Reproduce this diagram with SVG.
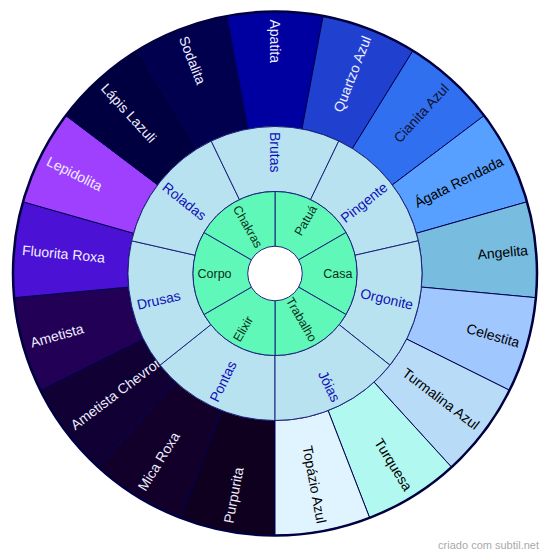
<svg xmlns="http://www.w3.org/2000/svg" width="550" height="559" viewBox="0 0 550 559">
<style>
text{font-family:"Liberation Sans",Arial,sans-serif}
.o{stroke:#000050;stroke-width:1}
.m{fill:#b8e2f0;stroke:#1a237e;stroke-width:1}
.i{fill:#60f8b8;stroke:#1a237e;stroke-width:1}
.ot{font-size:14px}
.w{fill:#eeeeff}
.k{fill:#000000}
.mt{font-size:14px;fill:#1010b8}
.it{font-size:12.5px;fill:#0b2e22}
.s{text-anchor:start}
.e{text-anchor:end}
</style>
<rect width="550" height="559" fill="#ffffff"/>
<g id="outer">
<g id="purpurita"><path class="o" fill="#0e001e" d="M275,420.5 L275,535.5 A262,262 0 0 1 180.355,517.807 L221.898,410.573 A147,147 0 0 0 275,420.5 Z"/><text class="ot w s" dy="0.35em" transform="translate(275 273.5) rotate(-79.412)" x="-254">Purpurita</text></g>
<g id="mica-roxa"><path class="o" fill="#12002a" d="M221.898,410.573 L180.355,517.807 A262,262 0 0 1 98.491,467.121 L175.966,382.134 A147,147 0 0 0 221.898,410.573 Z"/><text class="ot w s" dy="0.35em" transform="translate(275 273.5) rotate(-58.235)" x="-254">Mica Roxa</text></g>
<g id="ametista-chevron"><path class="o" fill="#110033" d="M175.966,382.134 L98.491,467.121 A262,262 0 0 1 40.468,390.281 L143.411,339.022 A147,147 0 0 0 175.966,382.134 Z"/><text class="ot w s" dy="0.35em" transform="translate(275 273.5) rotate(-37.059)" x="-254">Ametista Chevron</text></g>
<g id="ametista"><path class="o" fill="#220055" d="M143.411,339.022 L40.468,390.281 A262,262 0 0 1 14.119,297.675 L128.628,287.064 A147,147 0 0 0 143.411,339.022 Z"/><text class="ot w s" dy="0.35em" transform="translate(275 273.5) rotate(-15.882)" x="-254">Ametista</text></g>
<g id="fluorita-roxa"><path class="o" fill="#4b12d6" d="M128.628,287.064 L14.119,297.675 A262,262 0 0 1 23,201.801 L133.611,233.272 A147,147 0 0 0 128.628,287.064 Z"/><text class="ot w s" dy="0.35em" transform="translate(275 273.5) rotate(5.294)" x="-254">Fluorita Roxa</text></g>
<g id="lepidolita"><path class="o" fill="#a040ff" d="M133.611,233.272 L23,201.801 A262,262 0 0 1 65.919,115.611 L157.691,184.913 A147,147 0 0 0 133.611,233.272 Z"/><text class="ot w s" dy="0.35em" transform="translate(275 273.5) rotate(26.471)" x="-254">Lepidolita</text></g>
<g id="lapis-lazuli"><path class="o" fill="#000040" d="M157.691,184.913 L65.919,115.611 A262,262 0 0 1 137.075,50.742 L197.615,148.518 A147,147 0 0 0 157.691,184.913 Z"/><text class="ot w s" dy="0.35em" transform="translate(275 273.5) rotate(47.647)" x="-254">Lápis Lazuli</text></g>
<g id="sodalita"><path class="o" fill="#00004f" d="M197.615,148.518 L137.075,50.742 A262,262 0 0 1 226.857,15.962 L247.989,129.003 A147,147 0 0 0 197.615,148.518 Z"/><text class="ot w s" dy="0.35em" transform="translate(275 273.5) rotate(68.824)" x="-254">Sodalita</text></g>
<g id="apatita"><path class="o" fill="#0000a0" d="M247.989,129.003 L226.857,15.962 A262,262 0 0 1 323.143,15.962 L302.011,129.003 A147,147 0 0 0 247.989,129.003 Z"/><text class="ot w s" dy="0.35em" transform="translate(275 273.5) rotate(90)" x="-254">Apatita</text></g>
<g id="quartzo-azul"><path class="o" fill="#2040d0" d="M302.011,129.003 L323.143,15.962 A262,262 0 0 1 412.925,50.742 L352.385,148.518 A147,147 0 0 0 302.011,129.003 Z"/><text class="ot w e" dy="0.35em" transform="translate(275 273.5) rotate(-68.824)" x="254">Quartzo Azul</text></g>
<g id="cianita-azul"><path class="o" fill="#3070f0" d="M352.385,148.518 L412.925,50.742 A262,262 0 0 1 484.081,115.611 L392.309,184.913 A147,147 0 0 0 352.385,148.518 Z"/><text class="ot e" fill="#101030" dy="0.35em" transform="translate(275 273.5) rotate(-47.647)" x="254">Cianita Azul</text></g>
<g id="agata-rendada"><path class="o" fill="#58a0ff" d="M392.309,184.913 L484.081,115.611 A262,262 0 0 1 527,201.801 L416.389,233.272 A147,147 0 0 0 392.309,184.913 Z"/><text class="ot k e" dy="0.35em" transform="translate(275 273.5) rotate(-26.471)" x="254">Ágata Rendada</text></g>
<g id="angelita"><path class="o" fill="#78bce0" d="M416.389,233.272 L527,201.801 A262,262 0 0 1 535.881,297.675 L421.372,287.064 A147,147 0 0 0 416.389,233.272 Z"/><text class="ot k e" dy="0.35em" transform="translate(275 273.5) rotate(-5.294)" x="254">Angelita</text></g>
<g id="celestita"><path class="o" fill="#a0c8ff" d="M421.372,287.064 L535.881,297.675 A262,262 0 0 1 509.532,390.281 L406.589,339.022 A147,147 0 0 0 421.372,287.064 Z"/><text class="ot k e" dy="0.35em" transform="translate(275 273.5) rotate(15.882)" x="254">Celestita</text></g>
<g id="turmalina-azul"><path class="o" fill="#b8dcf8" d="M406.589,339.022 L509.532,390.281 A262,262 0 0 1 451.509,467.121 L374.034,382.134 A147,147 0 0 0 406.589,339.022 Z"/><text class="ot k e" dy="0.35em" transform="translate(275 273.5) rotate(37.059)" x="254">Turmalina Azul</text></g>
<g id="turquesa"><path class="o" fill="#b0f8f0" d="M374.034,382.134 L451.509,467.121 A262,262 0 0 1 369.645,517.807 L328.102,410.573 A147,147 0 0 0 374.034,382.134 Z"/><text class="ot k e" dy="0.35em" transform="translate(275 273.5) rotate(58.235)" x="254">Turquesa</text></g>
<g id="topazio-azul"><path class="o" fill="#e0f4ff" d="M328.102,410.573 L369.645,517.807 A262,262 0 0 1 275,535.5 L275,420.5 A147,147 0 0 0 328.102,410.573 Z"/><text class="ot k e" dy="0.35em" transform="translate(275 273.5) rotate(79.412)" x="254">Topázio Azul</text></g>
<circle cx="275" cy="273.5" r="262" fill="none" stroke="#000040" stroke-width="2.5"/>
</g>
<g id="middle">
<g id="pontas"><path class="m" d="M275,355.5 L275,420.5 A147,147 0 0 1 160.071,365.153 L210.890,324.626 A82,82 0 0 0 275,355.5 Z"/><text class="mt s" dy="0.35em" transform="translate(275 273.5) rotate(-64.286)" x="-141.5">Pontas</text></g>
<g id="drusas"><path class="m" d="M210.890,324.626 L160.071,365.153 A147,147 0 0 1 131.685,240.790 L195.056,255.253 A82,82 0 0 0 210.890,324.626 Z"/><text class="mt s" dy="0.35em" transform="translate(275 273.5) rotate(-12.857)" x="-141.5">Drusas</text></g>
<g id="roladas"><path class="m" d="M195.056,255.253 L131.685,240.790 A147,147 0 0 1 211.220,141.057 L239.422,199.620 A82,82 0 0 0 195.056,255.253 Z"/><text class="mt s" dy="0.35em" transform="translate(275 273.5) rotate(38.571)" x="-141.5">Roladas</text></g>
<g id="brutas"><path class="m" d="M239.422,199.620 L211.220,141.057 A147,147 0 0 1 338.780,141.057 L310.578,199.620 A82,82 0 0 0 239.422,199.620 Z"/><text class="mt s" dy="0.35em" transform="translate(275 273.5) rotate(90)" x="-141.5">Brutas</text></g>
<g id="pingente"><path class="m" d="M310.578,199.620 L338.780,141.057 A147,147 0 0 1 418.315,240.790 L354.944,255.253 A82,82 0 0 0 310.578,199.620 Z"/><text class="mt e" dy="0.35em" transform="translate(275 273.5) rotate(-38.571)" x="141.5">Pingente</text></g>
<g id="orgonite"><path class="m" d="M354.944,255.253 L418.315,240.790 A147,147 0 0 1 389.929,365.153 L339.110,324.626 A82,82 0 0 0 354.944,255.253 Z"/><text class="mt e" dy="0.35em" transform="translate(275 273.5) rotate(12.857)" x="141.5">Orgonite</text></g>
<g id="joias"><path class="m" d="M339.110,324.626 L389.929,365.153 A147,147 0 0 1 275,420.5 L275,355.5 A82,82 0 0 0 339.110,324.626 Z"/><text class="mt e" dy="0.35em" transform="translate(275 273.5) rotate(64.286)" x="141.5">Jóias</text></g>
</g>
<g id="inner">
<g id="patua"><path class="i" d="M275,246.2 L275,191.5 A82,82 0 0 1 346.014,232.5 L298.642,259.85 A27.3,27.3 0 0 0 275,246.2 Z"/><text class="it e" dy="0.35em" transform="translate(275 273.5) rotate(-60)" x="77.5">Patuá</text></g>
<g id="casa"><path class="i" d="M298.642,259.85 L346.014,232.5 A82,82 0 0 1 346.014,314.5 L298.642,287.15 A27.3,27.3 0 0 0 298.642,259.85 Z"/><text class="it e" dy="0.35em" transform="translate(275 273.5)" x="77.5">Casa</text></g>
<g id="trabalho"><path class="i" d="M298.642,287.15 L346.014,314.5 A82,82 0 0 1 275,355.5 L275,300.8 A27.3,27.3 0 0 0 298.642,287.15 Z"/><text class="it e" dy="0.35em" transform="translate(275 273.5) rotate(60)" x="77.5">Trabalho</text></g>
<g id="elixir"><path class="i" d="M275,300.8 L275,355.5 A82,82 0 0 1 203.986,314.5 L251.358,287.15 A27.3,27.3 0 0 0 275,300.8 Z"/><text class="it s" dy="0.35em" transform="translate(275 273.5) rotate(-60)" x="-77.5">Elixir</text></g>
<g id="corpo"><path class="i" d="M251.358,287.15 L203.986,314.5 A82,82 0 0 1 203.986,232.5 L251.358,259.85 A27.3,27.3 0 0 0 251.358,287.15 Z"/><text class="it s" dy="0.35em" transform="translate(275 273.5)" x="-77.5">Corpo</text></g>
<g id="chakras"><path class="i" d="M251.358,259.85 L203.986,232.5 A82,82 0 0 1 275,191.5 L275,246.2 A27.3,27.3 0 0 0 251.358,259.85 Z"/><text class="it s" dy="0.35em" transform="translate(275 273.5) rotate(60)" x="-77.5">Chakras</text></g>
</g>
<text x="539" y="549" font-size="11" fill="#aaaaaa" text-anchor="end">criado com subtil.net</text>
</svg>
